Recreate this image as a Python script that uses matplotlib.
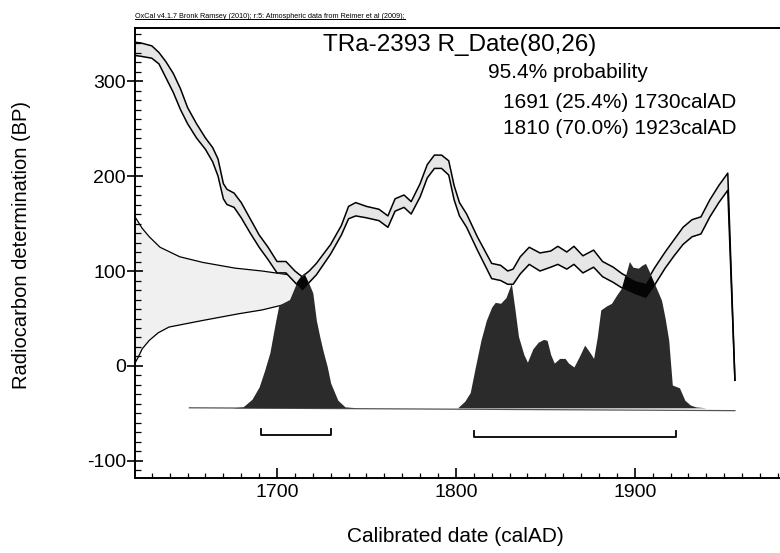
import matplotlib
matplotlib.use("Agg")
import matplotlib.pyplot as plt
import numpy as np
from matplotlib import font_manager
from matplotlib.lines import Line2D

# ---------------- data ----------------
header = "OxCal v4.1.7 Bronk Ramsey (2010); r:5: Atmospheric data from Reimer et al (2009);"
sample_name = "TRa-2393"
r_date = 80
r_err = 26
prob_total = 95.4
range_from = [1691, 1810]
range_to = [1730, 1923]
range_pct = [25.4, 70.0]

cal_years = [1620, 1624, 1630, 1634, 1638, 1642, 1646, 1650, 1655, 1660, 1664, 1667,
             1670, 1672, 1676, 1680, 1685, 1690, 1695, 1700, 1705, 1710, 1714, 1718,
             1722, 1730, 1736, 1740, 1744, 1750, 1757, 1762, 1766, 1771, 1775, 1780,
             1784, 1788, 1792, 1796, 1799, 1802, 1806, 1812, 1816, 1820, 1825, 1829,
             1832, 1836, 1841, 1847, 1853, 1857, 1862, 1866, 1871, 1877, 1882, 1888,
             1893, 1900, 1906, 1911, 1917, 1922, 1927, 1932, 1937, 1942, 1947, 1952,
             1956]
cal_upper = [341, 340, 337, 330, 320, 308, 292, 272, 255, 240, 230, 218,
             192, 186, 182, 172, 155, 138, 125, 110, 110, 100, 94, 100,
             108, 128, 148, 168, 172, 168, 165, 158, 176, 180, 173, 192,
             212, 222, 222, 216, 190, 172, 160, 136, 122, 108, 106, 100,
             102, 115, 125, 119, 121, 126, 120, 126, 116, 122, 110, 104,
             97, 90, 87, 103, 120, 133, 146, 154, 157, 175, 190, 203,
             -15]
cal_lower = [327, 326, 324, 318, 303, 288, 270, 255, 240, 228, 215, 200,
             176, 170, 167, 156, 140, 125, 112, 98, 98, 88, 80, 88,
             96, 118, 138, 155, 158, 156, 153, 146, 163, 167, 160, 178,
             198, 208, 208, 201, 175, 158, 146, 122, 107, 92, 90, 86,
             86, 97, 107, 100, 104, 107, 102, 107, 98, 104, 94, 88,
             82, 76, 72, 85, 103, 116, 128, 136, 139, 157, 172, 185,
             -15]

# posterior probability (height above its baseline, in BP units of the plot)
post_years = [1651, 1675, 1681, 1686, 1690, 1693, 1696, 1699, 1701, 1703, 1707, 1711,
              1715, 1718, 1720, 1722, 1724, 1726, 1728, 1730, 1734, 1738, 1745, 1801,
              1805, 1808, 1811, 1814, 1817, 1820, 1822, 1825, 1828, 1831, 1833, 1835,
              1838, 1840, 1843, 1846, 1849, 1851, 1853, 1855, 1858, 1861, 1863, 1866,
              1869, 1872, 1875, 1877, 1879, 1881, 1884, 1887, 1890, 1893, 1897, 1899,
              1902, 1904, 1906, 1908, 1910, 1913, 1915, 1917, 1919, 1921, 1925, 1928,
              1931, 1934, 1940, 1956]
post_prob = [0, 0, 1, 9, 22, 39, 58, 89, 108, 110, 114, 132,
             142, 130, 121, 92, 74, 58, 44, 26, 8, 1, 0, 0,
             7, 16, 44, 71, 92, 106, 111, 110, 116, 131, 104, 75,
             56, 48, 62, 69, 72, 71, 56, 47, 52, 52, 47, 43,
             54, 66, 58, 52, 74, 103, 107, 110, 119, 127, 154, 148,
             147, 150, 152, 144, 135, 122, 113, 94, 71, 24, 21, 8,
             3, 1, 0, 0]

# R_Date likelihood drawn against the y axis (BP, extent in years)
prior_bp = [3, 10, 18, 27, 35, 41, 48, 55, 59, 64, 72, 80, 88, 94, 96, 100, 103,
            109, 115, 125, 136, 145, 157]
prior_width = [0, 2, 4, 8, 13, 19, 38, 58, 71, 82, 93, 97, 95, 92, 86, 71, 56,
               38, 25, 14, 8, 4, 0]

# ---------------- style ----------------
fams = {f.name for f in font_manager.fontManager.ttflist}
FONT = "Liberation Sans" if "Liberation Sans" in fams else "DejaVu Sans"
NARROW = "Liberation Sans Narrow" if "Liberation Sans Narrow" in fams else FONT
plt.rcParams["font.family"] = [FONT, "DejaVu Sans"]
plt.rcParams["axes.unicode_minus"] = False

W, H = 780, 553
fig = plt.figure(figsize=(W / 100, H / 100), dpi=100)
left_px, right_px, top_px, bottom_px = 135, 780, 28, 478
ax = fig.add_axes([left_px / W, 1 - bottom_px / H, (right_px - left_px) / W,
                   (bottom_px - top_px) / H])
xmin, xmax = 1620.6, 1981.2
ymin, ymax = -117.9, 355.8
ax.set_xlim(xmin, xmax)
ax.set_ylim(ymin, ymax)

baseline = -44

# prior (R_Date) on the y axis
pw = np.array(prior_width, dtype=float)
ax.fill_betweenx(prior_bp, xmin, xmin + pw, color="#f0f0f0", lw=0, zorder=0.5)
ax.plot(xmin + pw, prior_bp, color="black", lw=0.9, zorder=0.6)

# calibration curve band
ax.fill_between(cal_years, cal_lower, cal_upper, color="#e6e6e6", lw=0, zorder=1)
ax.plot(cal_years, cal_upper, color="black", lw=1.1, zorder=2)
ax.plot(cal_years, cal_lower, color="black", lw=1.1, zorder=2)

# posterior
pp = np.array(post_prob, dtype=float)
post = ax.fill_between(post_years, baseline, baseline + pp, color="#2b2b2b", lw=0,
                       zorder=3)
ax.plot([post_years[0], post_years[-1]], [baseline, baseline - 3], color="#555555",
        lw=0.9, zorder=2.9)
dark = ax.fill_between(cal_years, cal_lower, cal_upper, color="#050505", lw=0,
                       zorder=4)
dark.set_clip_path(post.get_paths()[0], ax.transData)

# 95.4% range brackets
for a, b, yb in zip(range_from, range_to, [-73, -75]):
    ax.plot([a, a, b, b], [yb + 7, yb, yb, yb + 7], color="black", lw=1.3, zorder=5)

# axes styling
ax.spines["right"].set_visible(False)
for s in ["left", "top", "bottom"]:
    ax.spines[s].set_linewidth(1.4)
ax.set_xticks([1700, 1800, 1900])
ax.set_xticks(np.arange(1630, 1990, 10), minor=True)
ax.set_yticks([-100, 0, 100, 200, 300])
ax.set_yticks(np.arange(-110, 356, 10), minor=True)
ax.tick_params(axis="x", which="major", direction="in", length=7.5, width=1.2,
               labelsize=14, pad=4)
ax.tick_params(axis="x", which="minor", direction="in", length=3.6, width=0.9)
ax.tick_params(axis="y", which="major", direction="inout", length=11, width=1.2,
               labelsize=14, pad=1)
ax.tick_params(axis="y", which="minor", direction="in", length=4, width=0.9)

ax.set_xlabel("Calibrated date (calAD)", fontsize=15)
ax.xaxis.set_label_coords((455 - left_px) / (right_px - left_px),
                          (bottom_px - 537) / (bottom_px - top_px))
ax.xaxis.label.set_va("center")
ax.set_ylabel("Radiocarbon determination (BP)", fontsize=14.5)
ax.yaxis.set_label_coords((22 - left_px) / (right_px - left_px),
                          (bottom_px - 245) / (bottom_px - top_px))
ax.yaxis.label.set_va("center")

# texts
def fx(px):
    return px / W


def fy(py):
    return 1 - py / H


hdr = fig.text(fx(135), fy(16), header, fontsize=5.2, family=[NARROW, "DejaVu Sans"],
               ha="left", va="center")
fig.text(fx(323), fy(45), f"{sample_name} R_Date({r_date},{r_err})", fontsize=17.5,
         ha="left", va="center")
fig.text(fx(488), fy(73), f"{prob_total:.1f}% probability", fontsize=15,
         ha="left", va="center")
for i, (a, b, p) in enumerate(zip(range_from, range_to, range_pct)):
    fig.text(fx(503), fy(102 + 26 * i), f"{a} ({p:.1f}%) {b}calAD", fontsize=15,
             ha="left", va="center")

# underline header
fig.canvas.draw()
bb = hdr.get_window_extent()
fig.add_artist(Line2D([bb.x0 / W, bb.x1 / W], [(bb.y0 + 0.5) / H] * 2,
                      transform=fig.transFigure, color="black", lw=0.7))

fig.savefig("out.png", dpi=100)
